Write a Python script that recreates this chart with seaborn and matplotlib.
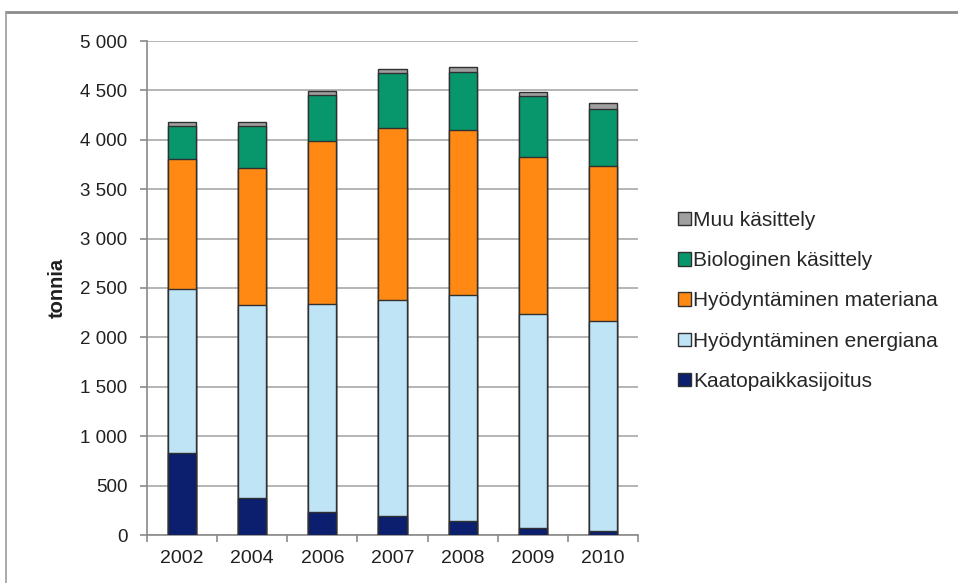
import numpy as np
import pandas as pd
import matplotlib
matplotlib.use("Agg")
import matplotlib.pyplot as plt
from matplotlib.patches import Patch
from matplotlib.lines import Line2D
from matplotlib.ticker import FuncFormatter, FixedLocator
import seaborn as sns

years = ["2002", "2004", "2006", "2007", "2008", "2009", "2010"]
kaatopaikka = [833, 378, 236, 196, 145, 68, 41]
energia = [1660, 1947, 2102, 2179, 2284, 2166, 2125]
materia = [1310, 1387, 1653, 1744, 1667, 1589, 1569]
biologinen = [334, 425, 462, 554, 590, 617, 577]
muu = [40, 40, 44, 47, 54, 47, 64]

series_names = [
    "Kaatopaikkasijoitus",
    "Hyödyntäminen energiana",
    "Hyödyntäminen materiana",
    "Biologinen käsittely",
    "Muu käsittely",
]
series_values = [kaatopaikka, energia, materia, biologinen, muu]
colors = ["#0b1f6e", "#bfe4f6", "#ff8912", "#08966d", "#a0a0a0"]

sns.set_style("white")
plt.rcParams["font.family"] = ["Liberation Sans", "DejaVu Sans"]

fig = plt.figure(figsize=(9.58, 5.83), dpi=100)
ax = fig.add_axes([147 / 958, 48 / 583, 491 / 958, 494 / 583])

# Stacked bars: draw cumulative totals from the tallest layer down
cum = np.cumsum(np.array(series_values), axis=0)
for i in range(len(series_names) - 1, -1, -1):
    df = pd.DataFrame({"year": years, "value": cum[i]})
    sns.barplot(data=df, x="year", y="value", color=colors[i], width=0.4,
                edgecolor="#303030", linewidth=1.0, saturation=1, ax=ax, zorder=3)

ax.set_xlim(-0.5, len(years) - 0.5)
ax.set_ylim(0, 5000)
ax.set_yticks(np.arange(0, 5001, 500))
ax.yaxis.set_major_formatter(FuncFormatter(lambda v, p: f"{int(v):,}".replace(",", " ")))
ax.grid(axis="y", color="#a8a8a8", linewidth=1.2, zorder=0)
ax.set_axisbelow(True)

for side in ["top", "right"]:
    ax.spines[side].set_visible(False)
for side in ["left", "bottom"]:
    ax.spines[side].set_color("#8a8a8a")
    ax.spines[side].set_linewidth(1.2)

ax.tick_params(axis="y", which="major", direction="out", length=5, color="#8a8a8a",
               width=1.2, labelsize=13.5, labelcolor="#202020", pad=9, left=True)
ax.tick_params(axis="x", which="major", length=0, labelsize=14, labelcolor="#202020", pad=11)
ax.xaxis.set_minor_locator(FixedLocator(np.arange(-0.5, len(years), 1.0)))
ax.tick_params(axis="x", which="minor", direction="out", length=5, color="#8a8a8a",
               width=1.2, bottom=True)

ax.set_xlabel("")
ax.set_ylabel("tonnia", fontsize=14.5, fontweight="bold", color="#202020", labelpad=10)

handles = [Patch(facecolor=colors[i], edgecolor="#303030", linewidth=1.0)
           for i in range(len(series_names) - 1, -1, -1)]
labels = series_names[::-1]
fig.legend(handles, labels, loc="center left", bbox_to_anchor=(678 / 958, 1 - 301 / 583),
           frameon=False, fontsize=15, labelspacing=1.02, handlelength=0.62,
           handleheight=0.62, handletextpad=0.12, borderaxespad=0, borderpad=0)

# Outer chart frame
fig.add_artist(Line2D([6 / 958, 1.0], [1 - 12 / 583, 1 - 12 / 583],
                      transform=fig.transFigure, color="#8c8c8c", linewidth=2))
fig.add_artist(Line2D([6 / 958, 6 / 958], [0, 1 - 12 / 583],
                      transform=fig.transFigure, color="#9c9c9c", linewidth=1.2))

fig.savefig("out.png", dpi=100, facecolor="white")
